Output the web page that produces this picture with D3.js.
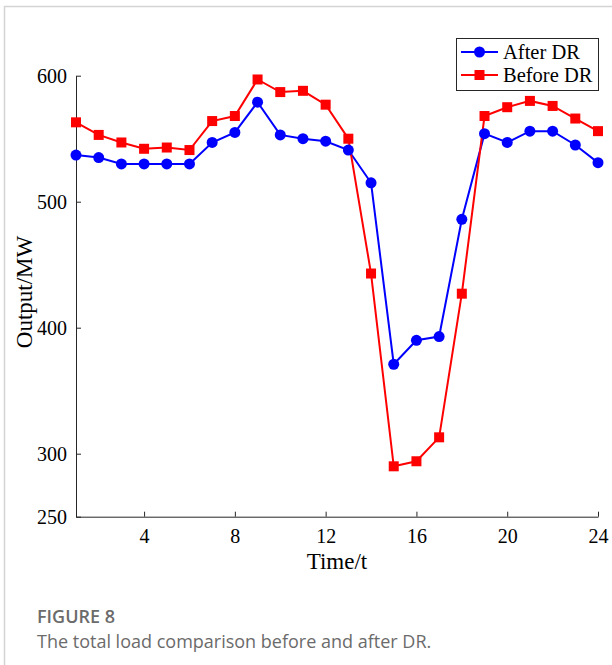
<!DOCTYPE html>
<html>
<head>
<meta charset="utf-8">
<script src="https://cdn.jsdelivr.net/npm/d3@7"></script>
<style>
  body { margin: 0; background: #fff; }
  svg { display: block; }
</style>
</head>
<body>
<svg id="chart" width="612" height="665"></svg>
<script>
// Hours 1..24
var hours = d3.range(1, 25);

// Load (MW)
var afterDR = [537, 535, 530, 530, 530, 530, 547, 555, 579, 553, 550, 548,
               541, 515, 371, 390, 393, 486, 554, 547, 556, 556, 545, 531];
var beforeDR = [563, 553, 547, 542, 543, 541, 564, 568, 597, 587, 588, 577,
                550, 443, 290, 294, 313, 427, 568, 575, 580, 576, 566, 556];

var xTicks = [4, 8, 12, 16, 20, 24];
var yTicks = [250, 300, 400, 500, 600];

var seriesNames = ['After DR', 'Before DR'];
var seriesColors = ['#0000ff', '#ff0000'];

var svg = d3.select('#chart');

// card frame
svg.append('path')
    .attr('d', 'M4.5,665 L4.5,6.5 L612,6.5')
    .attr('fill', 'none')
    .attr('stroke', '#d4d4d4')
    .attr('stroke-width', 1.5);

// Scales
var x = d3.scaleLinear().domain([1, 24]).range([76, 598]);
var y = d3.scaleLinear().domain([250, 600]).range([516.7, 75.7]);

var axisColor = '#262626';
var serif = '"Liberation Serif", "Times New Roman", serif';

// x axis
var xAxis = svg.append('g')
    .attr('transform', 'translate(0,' + y(250) + ')')
    .call(d3.axisBottom(x).tickValues(xTicks).tickSizeInner(-5).tickSizeOuter(0).tickPadding(12));
xAxis.select('.domain').attr('stroke', axisColor).attr('stroke-width', 1);
xAxis.selectAll('.tick line').attr('stroke', axisColor);
xAxis.selectAll('.tick text')
    .attr('fill', '#000')
    .style('font-family', serif)
    .style('font-size', '20px');

// y axis
var yAxis = svg.append('g')
    .attr('transform', 'translate(' + x(1) + ',0)')
    .call(d3.axisLeft(y).tickValues(yTicks).tickSizeInner(-5).tickSizeOuter(0).tickPadding(9));
yAxis.select('.domain').attr('stroke', axisColor).attr('stroke-width', 1);
yAxis.selectAll('.tick line').attr('stroke', axisColor);
yAxis.selectAll('.tick text')
    .attr('fill', '#000')
    .style('font-family', serif)
    .style('font-size', '20px');

// axis labels
svg.append('text')
    .attr('x', 337)
    .attr('y', 569)
    .attr('text-anchor', 'middle')
    .style('font-family', serif)
    .style('font-size', '23px')
    .text('Time/t');

svg.append('text')
    .attr('transform', 'translate(32,292) rotate(-90)')
    .attr('text-anchor', 'middle')
    .style('font-family', serif)
    .style('font-size', '23px')
    .text('Output/MW');

// Lines
var line = d3.line()
    .x(function(d, i) { return x(hours[i]); })
    .y(function(d) { return y(d); });

[afterDR, beforeDR].forEach(function(values, k) {
    svg.append('path')
        .datum(values)
        .attr('fill', 'none')
        .attr('stroke', seriesColors[k])
        .attr('stroke-width', 2)
        .attr('d', line);
});

// markers
svg.append('g').selectAll('circle')
    .data(afterDR)
    .enter().append('circle')
        .attr('cx', function(d, i) { return x(hours[i]); })
        .attr('cy', function(d) { return y(d); })
        .attr('r', 5.5)
        .attr('fill', seriesColors[0]);

svg.append('g').selectAll('rect')
    .data(beforeDR)
    .enter().append('rect')
        .attr('x', function(d, i) { return x(hours[i]) - 5; })
        .attr('y', function(d) { return y(d) - 5; })
        .attr('width', 10)
        .attr('height', 10)
        .attr('fill', seriesColors[1]);

// Legend
var legend = svg.append('g').attr('transform', 'translate(456,38)');
legend.append('rect')
    .attr('x', 0.5).attr('y', 0.5)
    .attr('width', 142).attr('height', 52)
    .attr('fill', '#fff')
    .attr('stroke', axisColor)
    .attr('stroke-width', 1);

seriesNames.forEach(function(name, k) {
    var cy = 14 + k * 23;
    legend.append('line')
        .attr('x1', 5).attr('x2', 42)
        .attr('y1', cy).attr('y2', cy)
        .attr('stroke', seriesColors[k])
        .attr('stroke-width', 2);
    if (k === 0) {
        legend.append('circle')
            .attr('cx', 23.5).attr('cy', cy).attr('r', 5.5)
            .attr('fill', seriesColors[k]);
    } else {
        legend.append('rect')
            .attr('x', 18.5).attr('y', cy - 5)
            .attr('width', 10).attr('height', 10)
            .attr('fill', seriesColors[k]);
    }
    legend.append('text')
        .attr('x', 47)
        .attr('y', cy + 6.5)
        .style('font-family', serif)
        .style('font-size', '20.5px')
        .text(name);
});

// Caption
svg.append('text')
    .attr('x', 37)
    .attr('y', 623)
    .attr('fill', '#6b6b6b')
    .style('font-family', '"Open Sans", "Noto Sans", sans-serif')
    .style('font-size', '18px')
    .style('font-weight', 600)
    .text('FIGURE 8');

svg.append('text')
    .attr('x', 37)
    .attr('y', 648)
    .attr('fill', '#6b6b6b')
    .style('font-family', '"Open Sans", "Noto Sans", sans-serif')
    .style('font-size', '18px')
    .text('The total load comparison before and after DR.');
</script>
</body>
</html>
